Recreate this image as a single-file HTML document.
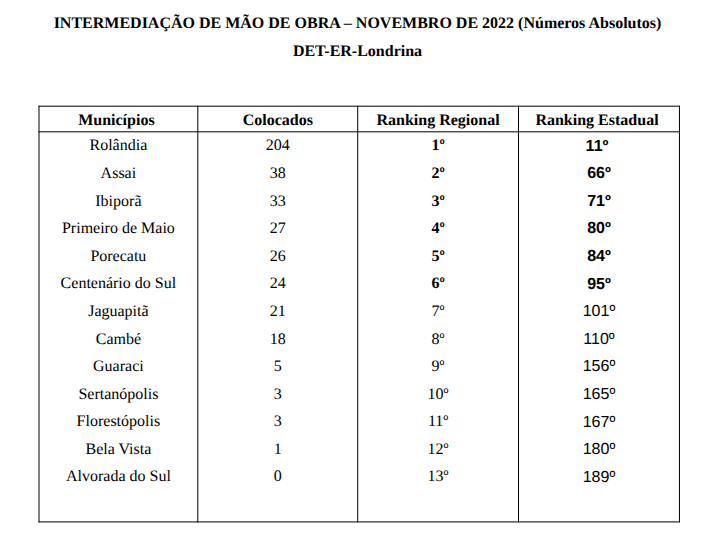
<!DOCTYPE html>
<html lang="pt-BR"><head><meta charset="utf-8"><title>Intermediação de Mão de Obra</title>
<style>
html,body{margin:0;padding:0;background:#fff;overflow:hidden;}
body{text-rendering:geometricPrecision;width:716px;height:542px;position:relative;overflow:hidden;font-family:"Liberation Serif",serif;color:#000;}
.t{position:absolute;width:160px;text-align:center;white-space:nowrap;font-size:16px;line-height:20px;height:20px;}
.w{width:700px;}
.b{font-weight:bold;}
.s{font-family:"Liberation Sans",sans-serif;}
svg{position:absolute;left:0;top:0;}
</style></head><body>

<svg width="716" height="542" viewBox="0 0 716 542">
<rect x="38.50" y="105.70" width="1.00" height="416.72" fill="#000"/>
<rect x="197.30" y="105.70" width="1.00" height="416.72" fill="#000"/>
<rect x="357.20" y="105.70" width="1.00" height="416.72" fill="#000"/>
<rect x="518.00" y="105.70" width="1.00" height="416.72" fill="#000"/>
<rect x="678.95" y="105.70" width="1.00" height="416.72" fill="#000"/>
<rect x="38.50" y="105.70" width="641.45" height="1.00" fill="#000"/>
<rect x="38.50" y="131.30" width="641.45" height="1.00" fill="#000"/>
<rect x="38.50" y="521.42" width="641.45" height="1.00" fill="#000"/>
</svg>
<div class="t w b" style="left:7.50px;top:14px">INTERMEDIAÇÃO DE MÃO DE OBRA – NOVEMBRO DE 2022 (Números Absolutos)</div>
<div class="t w b" style="left:7.50px;top:42px">DET-ER-Londrina</div>
<div class="t b" style="left:36.40px;top:111.00px">Municípios</div>
<div class="t b" style="left:197.75px;top:111.00px">Colocados</div>
<div class="t b" style="left:358.10px;top:111.00px">Ranking Regional</div>
<div class="t b" style="left:517.00px;top:111.00px">Ranking Estadual</div>
<div class="t " style="left:38.40px;top:136.00px">Rolândia</div>
<div class="t " style="left:197.75px;top:136.00px">204</div>
<div class="t b" style="left:358.10px;top:136.00px">1º</div>
<div class="t s b" style="left:517.00px;top:137.00px">11º</div>
<div class="t " style="left:38.40px;top:164.00px">Assai</div>
<div class="t " style="left:197.75px;top:164.00px">38</div>
<div class="t b" style="left:358.10px;top:164.00px">2º</div>
<div class="t s b" style="left:519.00px;top:164.00px">66º</div>
<div class="t " style="left:38.40px;top:192.00px">Ibiporã</div>
<div class="t " style="left:197.75px;top:192.00px">33</div>
<div class="t b" style="left:358.10px;top:192.00px">3º</div>
<div class="t s b" style="left:519.00px;top:192.00px">71º</div>
<div class="t " style="left:38.40px;top:219.00px">Primeiro de Maio</div>
<div class="t " style="left:197.75px;top:219.00px">27</div>
<div class="t b" style="left:358.10px;top:219.00px">4º</div>
<div class="t s b" style="left:519.00px;top:219.00px">80º</div>
<div class="t " style="left:38.40px;top:247.00px">Porecatu</div>
<div class="t " style="left:197.75px;top:247.00px">26</div>
<div class="t b" style="left:358.10px;top:247.00px">5º</div>
<div class="t s b" style="left:519.00px;top:247.00px">84º</div>
<div class="t " style="left:38.40px;top:274.00px">Centenário do Sul</div>
<div class="t " style="left:197.75px;top:274.00px">24</div>
<div class="t b" style="left:358.10px;top:274.00px">6º</div>
<div class="t s b" style="left:519.00px;top:275.00px">95º</div>
<div class="t " style="left:38.40px;top:302.00px">Jaguapitã</div>
<div class="t " style="left:197.75px;top:302.00px">21</div>
<div class="t " style="left:358.10px;top:302.00px">7º</div>
<div class="t s" style="left:519.00px;top:302.00px">101º</div>
<div class="t " style="left:38.40px;top:330.00px">Cambé</div>
<div class="t " style="left:197.75px;top:330.00px">18</div>
<div class="t " style="left:358.10px;top:330.00px">8º</div>
<div class="t s" style="left:519.00px;top:330.00px">110º</div>
<div class="t " style="left:38.40px;top:357.00px">Guaraci</div>
<div class="t " style="left:197.75px;top:357.00px">5</div>
<div class="t " style="left:358.10px;top:357.00px">9º</div>
<div class="t s" style="left:519.00px;top:357.00px">156º</div>
<div class="t " style="left:38.40px;top:385.00px">Sertanópolis</div>
<div class="t " style="left:197.75px;top:385.00px">3</div>
<div class="t " style="left:358.10px;top:385.00px">10º</div>
<div class="t s" style="left:519.00px;top:385.00px">165º</div>
<div class="t " style="left:38.40px;top:412.00px">Florestópolis</div>
<div class="t " style="left:197.75px;top:412.00px">3</div>
<div class="t " style="left:358.10px;top:412.00px">11º</div>
<div class="t s" style="left:519.00px;top:413.00px">167º</div>
<div class="t " style="left:38.40px;top:440.00px">Bela Vista</div>
<div class="t " style="left:197.75px;top:440.00px">1</div>
<div class="t " style="left:358.10px;top:440.00px">12º</div>
<div class="t s" style="left:519.00px;top:440.00px">180º</div>
<div class="t " style="left:38.40px;top:467.00px">Alvorada do Sul</div>
<div class="t " style="left:197.75px;top:467.00px">0</div>
<div class="t " style="left:358.10px;top:467.00px">13º</div>
<div class="t s" style="left:519.00px;top:468.00px">189º</div>
</body></html>
